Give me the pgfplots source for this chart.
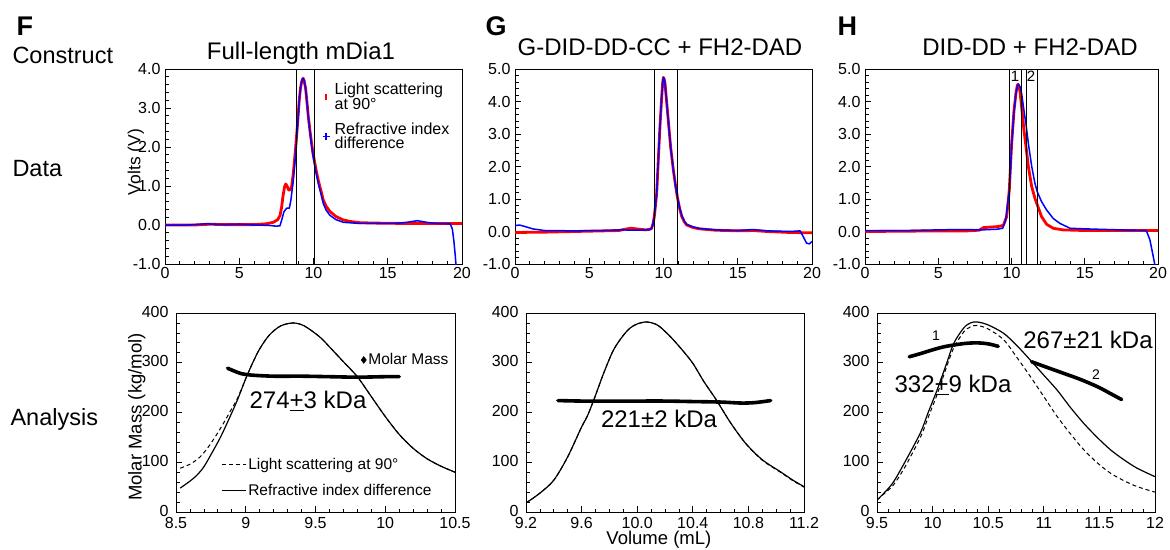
\documentclass[border=0pt]{standalone}
\usepackage{fontspec}
\setmainfont{Liberation Sans}
\usepackage{pgfplots}
\pgfplotsset{compat=1.18}

\newcommand{\fs}[1]{\fontsize{#1}{#1}\selectfont}

\pgfplotsset{
  /pgf/number format/assume math mode=true,
  base/.style={scale only axis, tick align=inside, tick pos=left,
    major tick length=6pt, minor tick length=3.5pt,
    every tick/.append style={black, line width=0.8pt},
    axis line style={line width=1pt},
    tick label style={font=\fontsize{16}{18}\selectfont}},
  top/.style={base, width=297pt, height=195pt, xmin=0, xmax=20,
    xtick={0,5,...,20}, minor x tick num=4, minor y tick num=4,
    y tick label style={xshift=-1pt, /pgf/number format/fixed,
      /pgf/number format/fixed zerofill, /pgf/number format/precision=1}},
  bot/.style={base, width=279pt, height=199pt, ymin=0, ymax=400,
    ytick={0,100,...,400}, minor y tick num=4,
    y tick label style={xshift=-4pt, yshift=1.5pt}, x tick label style={yshift=-2pt}},
  ls/.style={red, line width=2.8pt, line join=round},
  ri/.style={blue, line width=1.5pt, line join=round},
  vl/.style={black, line width=0.9pt},
  mm/.style={black, line width=3.6pt, line cap=round, smooth},
  rcurve/.style={black, line width=1.2pt, smooth},
  lcurve/.style={black, line width=1pt, dash pattern=on 4pt off 3pt, smooth},
  lineleg/.style={legend image code/.code={\draw[##1] (0pt,0pt) -- (24pt,0pt);}},
}

\begin{document}
\begin{tikzpicture}
\useasboundingbox (0pt,0pt) rectangle (1170pt,-549pt);

% ---------- F top ----------
\begin{axis}[top, at={(165pt,-264pt)}, anchor=south west,
  ymin=-1, ymax=4, ytick={-1,0,...,4},
  ylabel={Volts (V)},
  ylabel style={font=\fs{17.5}, at={(axis description cs:-0.098,0.523)}, anchor=center},
  legend style={at={(0.52,0.95)}, anchor=north west, draw=none, fill=none,
    font=\fontsize{16}{14.5}\selectfont, row sep=8pt, column sep=3pt, cells={align=left}},
  legend cell align=left]
\addplot[ls, forget plot] coordinates {
(0,0.0)(2,0.0)(3,0.02)(4,0.01)(6,0.01)(6.8,0.03)(7.3,0.07)(7.6,0.14)(7.75,0.25)
(7.85,0.45)(7.95,0.75)(8.05,0.98)(8.13,1.05)(8.22,1.0)(8.32,0.9)(8.42,0.9)
(8.53,0.98)(8.64,1.33)(8.72,1.65)(8.8,2.0)(8.91,2.52)(9.04,3.2)(9.12,3.5)
(9.2,3.67)(9.26,3.74)(9.31,3.76)(9.37,3.7)(9.47,3.5)(9.56,3.15)(9.65,2.78)
(9.76,2.42)(9.87,2.1)(9.96,1.85)(10.05,1.67)(10.18,1.4)(10.32,1.15)(10.5,0.88)
(10.66,0.64)(10.85,0.48)(11.1,0.35)(11.5,0.22)(12.0,0.13)(12.5,0.09)(13.1,0.06)
(14,0.05)(16,0.04)(18,0.04)(20,0.04)};
\addplot[ri, forget plot] coordinates {
(0,0.0)(1.5,0.0)(2.8,0.03)(4,0.01)(5,0.02)(6,0.0)(7,-0.01)(7.5,-0.03)(7.74,-0.02)
(7.86,0.13)(8.01,0.34)(8.19,0.43)(8.37,0.43)(8.48,0.64)(8.64,1.15)(8.8,1.84)
(8.91,2.45)(9.04,3.18)(9.12,3.5)(9.2,3.67)(9.26,3.74)(9.31,3.76)(9.37,3.7)
(9.47,3.5)(9.56,3.15)(9.65,2.78)(9.76,2.4)(9.87,2.05)(9.96,1.8)(10.05,1.6)
(10.18,1.33)(10.32,1.07)(10.5,0.8)(10.66,0.55)(10.85,0.38)(11.1,0.25)(11.5,0.14)
(12.0,0.07)(13.1,0.04)(14,0.04)(15.5,0.04)(16.3,0.07)(17,0.11)(17.6,0.07)(18.2,0.04)
(19.2,0.03)(19.35,-0.1)(19.45,-0.4)(19.55,-0.8)(19.65,-1.3)};
\addplot[vl, forget plot] coordinates {(8.87,-1)(8.87,4)};
\addplot[vl, forget plot] coordinates {(10.05,-1)(10.05,4)};
\addlegendimage{only marks, mark=|, mark size=3pt, red, line width=2.5pt}
\addlegendentry{Light scattering\\at 90°}
\addlegendimage{only marks, mark=+, mark size=3.5pt, blue, line width=1.4pt}
\addlegendentry{Refractive index\\difference}
\end{axis}

% ---------- G top ----------
\begin{axis}[top, at={(515pt,-264pt)}, anchor=south west,
  ymin=-1, ymax=5, ytick={-1,0,...,5}]
\addplot[ls] coordinates {
(0,-0.03)(2,-0.02)(4,0.0)(6,0.02)(7,0.03)(7.4,0.07)(7.8,0.1)(8.2,0.08)(8.8,0.05)
(9.1,0.07)(9.2,0.1)(9.3,0.25)(9.38,0.46)(9.46,0.8)(9.54,1.17)(9.65,2.2)(9.76,3.22)
(9.88,4.15)(9.94,4.55)(9.99,4.74)(10.04,4.7)(10.1,4.56)(10.2,4.05)(10.32,3.43)
(10.48,2.6)(10.66,1.9)(10.8,1.45)(10.93,1.07)(11.08,0.72)(11.23,0.46)(11.4,0.3)
(11.56,0.2)(12,0.12)(12.46,0.08)(13.5,0.04)(15,0.02)(16,0.03)(17,0.0)(18.5,-0.03)(20,-0.04)};
\addplot[ri] coordinates {
(0,0.18)(0.3,0.2)(0.7,0.15)(1.2,0.08)(2,0.03)(4,0.02)(6,0.03)(7.2,0.05)(8,0.04)
(9,0.05)(9.2,0.09)(9.3,0.24)(9.38,0.46)(9.46,0.8)(9.54,1.17)(9.65,2.2)(9.76,3.22)
(9.88,4.15)(9.94,4.55)(9.99,4.74)(10.04,4.7)(10.1,4.56)(10.2,4.05)(10.32,3.43)
(10.48,2.6)(10.66,1.9)(10.8,1.45)(10.93,1.07)(11.08,0.74)(11.23,0.5)(11.4,0.32)
(11.56,0.22)(12,0.14)(12.46,0.09)(13.5,0.05)(15,0.03)(16,0.06)(17,0.02)(18.5,0.0)
(19.2,0.02)(19.41,-0.16)(19.64,-0.36)(19.82,-0.38)(20,-0.31)};
\addplot[vl] coordinates {(9.38,-1)(9.38,5)};
\addplot[vl] coordinates {(10.93,-1)(10.93,5)};
\end{axis}

% ---------- H top ----------
\begin{axis}[top, width=293pt, at={(865pt,-264pt)}, anchor=south west,
  ymin=-1, ymax=5, ytick={-1,0,...,5}]
\addplot[ls] coordinates {
(0,0.0)(3,0.01)(5,0.02)(7,0.02)(7.8,0.04)(8.08,0.12)(9.0,0.15)(9.3,0.17)(9.45,0.2)
(9.67,0.46)(9.85,1.28)(10.01,2.71)(10.17,3.72)(10.31,4.28)(10.4,4.5)(10.45,4.53)
(10.52,4.46)(10.58,4.3)(10.69,3.84)(10.85,3.12)(10.99,2.61)(11.15,2.0)(11.38,1.38)
(11.6,1.02)(11.76,0.82)(12.05,0.46)(12.4,0.22)(12.85,0.1)(13.5,0.05)(15,0.03)(20,0.03)};
\addplot[ri] coordinates {
(0,0.03)(3,0.03)(5,0.05)(6.5,0.06)(8,0.05)(9,0.07)(9.4,0.1)(9.6,0.35)(9.85,1.25)
(10.01,2.65)(10.17,3.68)(10.31,4.26)(10.4,4.48)(10.47,4.53)(10.58,4.45)(10.69,4.25)
(10.85,3.72)(10.99,3.3)(11.15,2.71)(11.38,2.0)(11.6,1.48)(11.76,1.22)(12.05,0.92)
(12.4,0.66)(12.85,0.4)(13.3,0.25)(14,0.1)(15.1,0.08)(17.4,0.05)(19.2,0.03)
(19.45,-0.26)(19.68,-0.78)(19.9,-1.3)};
\addplot[vl] coordinates {(9.85,-1)(9.85,5)};
\addplot[vl] coordinates {(10.69,-1)(10.69,5)};
\addplot[vl] coordinates {(10.99,-1)(10.99,5)};
\addplot[vl] coordinates {(11.76,-1)(11.76,5)};
\end{axis}

% ---------- F bottom ----------
\begin{axis}[bot, at={(176pt,-512pt)}, anchor=south west,
  xmin=8.5, xmax=10.5, xtick={8.5,9,9.5,10,10.5}, minor x tick num=4,
  ylabel={Molar Mass (kg/mol)},
  ylabel style={font=\fs{18.5}, at={(axis description cs:-0.14,0.477)}, anchor=center},
  legend style={at={(0.15,0.29)}, anchor=north west, draw=none, fill=none,
    font=\fs{15.5}, row sep=9pt},
  legend cell align=left]
\addplot[lcurve, lineleg] coordinates {
(8.53,88)(8.6,96)(8.67,110)(8.73,130)(8.79,155)(8.85,183)(8.9,208)(8.94,228)
(9.0,268)(9.05,300)(9.1,328)(9.17,356)(9.25,374)(9.34,380)(9.42,374)(9.53,352)
(9.6,332)(9.7,302)(9.8,272)(9.9,232)(10.0,192)(10.1,156)(10.2,128)(10.3,107)
(10.4,92)(10.5,80)};
\addlegendentry{Light scattering at 90°}
\addplot[rcurve, lineleg] coordinates {
(8.53,48)(8.6,62)(8.65,74)(8.7,91)(8.76,120)(8.82,151)(8.88,187)(8.94,225)
(9.0,268)(9.05,300)(9.1,328)(9.17,356)(9.25,374)(9.34,380)(9.42,374)(9.53,352)
(9.6,332)(9.7,302)(9.8,272)(9.9,232)(10.0,192)(10.1,156)(10.2,128)(10.3,107)
(10.4,92)(10.5,80)};
\addlegendentry{Refractive index difference}
\addplot[mm, forget plot] coordinates {
(8.87,289)(8.92,283)(8.97,278)(9.05,275)(9.2,273)(9.4,273)(9.6,272)(9.8,271)(10.0,272)(10.1,272)};
\end{axis}
\begin{axis}[bot, at={(176pt,-512pt)}, anchor=south west, hide axis,
  xmin=8.5, xmax=10.5,
  legend style={at={(0.652,0.764)}, anchor=west, draw=none, fill=none, font=\fs{15.5}}]
\addlegendimage{only marks, mark=diamond*, mark size=3.5pt, black}
\addlegendentry{Molar Mass}
\end{axis}

% ---------- G bottom ----------
\begin{axis}[bot, width=278pt, at={(526pt,-512pt)}, anchor=south west,
  xmin=9.2, xmax=11.2, xtick={9.2,9.6,...,11.2}, minor x tick num=3,
  x tick label style={/pgf/number format/fixed, /pgf/number format/fixed zerofill,
    /pgf/number format/precision=1},
  xlabel={Volume (mL)},
  xlabel style={font=\fs{18.5}, at={(axis description cs:0.478,-0.141)}, anchor=center}]
\addplot[lcurve] coordinates {
(9.2,18)(9.3,38)(9.4,64)(9.5,111)(9.6,171)(9.64,192)(9.69,227)(9.76,280)(9.83,326)
(9.9,355)(9.95,370)(10.0,378)(10.07,382)(10.15,375)(10.24,352)(10.32,327)(10.4,299)
(10.48,262)(10.57,225)(10.67,180)(10.78,138)(10.9,104)(11.03,80)(11.12,63)(11.2,50)};
\addplot[rcurve] coordinates {
(9.2,18)(9.3,38)(9.4,64)(9.5,111)(9.6,171)(9.64,192)(9.69,227)(9.76,280)(9.83,326)
(9.9,355)(9.95,370)(10.0,378)(10.07,382)(10.15,375)(10.24,352)(10.32,327)(10.4,299)
(10.48,262)(10.57,225)(10.67,180)(10.78,138)(10.9,105)(11.03,81)(11.12,64)(11.2,51)};
\addplot[mm] coordinates {
(9.43,224)(9.6,223)(9.8,223)(10.0,223)(10.2,223)(10.4,222)(10.6,221)(10.75,219)(10.85,220)(10.96,224)};
\end{axis}

% ---------- H bottom ----------
\begin{axis}[bot, width=278pt, at={(877pt,-512pt)}, anchor=south west,
  xmin=9.5, xmax=12, xtick={9.5,10,...,12}, minor x tick num=4]
\addplot[lcurve] coordinates {
(9.5,24)(9.58,40)(9.65,55)(9.75,90)(9.89,150)(9.96,190)(10.04,236)(10.12,288)
(10.19,330)(10.28,362)(10.34,372)(10.4,375)(10.5,368)(10.64,346)(10.76,310)
(10.88,272)(11.0,232)(11.12,192)(11.24,157)(11.36,125)(11.48,99)(11.6,78)
(11.72,63)(11.84,51)(12.0,40)};
\addplot[rcurve] coordinates {
(9.5,24)(9.58,42)(9.65,61)(9.75,100)(9.89,159)(9.96,200)(10.04,245)(10.12,295)
(10.19,339)(10.28,370)(10.34,380)(10.4,382)(10.5,376)(10.64,359)(10.76,334)
(10.88,305)(11.0,275)(11.12,245)(11.24,210)(11.36,178)(11.48,150)(11.6,125)
(11.72,105)(11.84,88)(12.0,71)};
\addplot[mm] coordinates {
(9.79,312)(9.9,319)(10.0,326)(10.1,332)(10.2,336)(10.3,339)(10.4,340)(10.5,338)(10.59,333)};
\addplot[mm] coordinates {
(10.89,302)(11.0,293)(11.1,285)(11.2,277)(11.3,269)(11.4,260)(11.5,250)(11.6,238)(11.7,226)};
\end{axis}

% ---------- texts ----------
\node[anchor=base west, font=\fs{27}\bfseries] at (13pt,-35pt) {F};
\node[anchor=base west, font=\fs{27}\bfseries] at (482pt,-35pt) {G};
\node[anchor=base west, font=\fs{27}\bfseries] at (834pt,-35pt) {H};
\node[anchor=base west, font=\fs{23.5}] at (9pt,-63pt) {Construct};
\node[anchor=base west, font=\fs{23.5}] at (9pt,-176pt) {Data};
\node[anchor=base west, font=\fs{23.5}] at (7pt,-425pt) {Analysis};
\node[anchor=base, font=\fs{24}] at (301pt,-59pt) {Full-length mDia1};
\node[anchor=base, font=\fs{24}] at (660pt,-55pt) {G-DID-DD-CC + FH2-DAD};
\node[anchor=base, font=\fs{24}] at (1030pt,-55pt) {DID-DD + FH2-DAD};
\node[font=\fs{15}] at (1015pt,-76pt) {1};
\node[font=\fs{15}] at (1031pt,-76pt) {2};
\node[font=\fs{24}] at (308pt,-401pt) {274\underline{+}3 kDa};
\node[font=\fs{24}] at (659pt,-419pt) {221±2 kDa};
\node[font=\fs{24}] at (953pt,-385pt) {332\underline{+}9 kDa};
\node[font=\fs{24}] at (1088pt,-340pt) {267±21 kDa};
\node[font=\fs{14}] at (936pt,-336pt) {1};
\node[font=\fs{14}] at (1096pt,-375pt) {2};
\end{tikzpicture}
\end{document}
